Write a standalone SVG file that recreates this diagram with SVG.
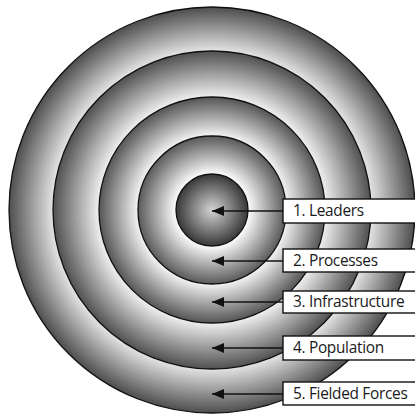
<svg xmlns="http://www.w3.org/2000/svg" width="415" height="416" viewBox="0 0 415 416">
<style>
.ring{stroke:#111;stroke-width:1.3}
.box{fill:#fff;stroke:#111;stroke-width:1.4}
.lbl{font-family:"Open Sans","Noto Sans",sans-serif;font-size:15.4px;letter-spacing:-0.3px;fill:#1a1a1a}
.conn{stroke:#111;stroke-width:1.5;fill:none;marker-end:url(#ah)}
</style>
<defs>
<radialGradient id="g5" gradientUnits="userSpaceOnUse" cx="212" cy="210" r="203">
<stop offset="0.78" stop-color="#e6e6e6"/><stop offset="1" stop-color="#4e4e4e"/></radialGradient>
<radialGradient id="g4" gradientUnits="userSpaceOnUse" cx="212" cy="210" r="159">
<stop offset="0.71" stop-color="#f0f0f0"/><stop offset="1" stop-color="#505050"/></radialGradient>
<radialGradient id="g3" gradientUnits="userSpaceOnUse" cx="212" cy="210" r="113">
<stop offset="0.65" stop-color="#f6f6f6"/><stop offset="1" stop-color="#555"/></radialGradient>
<radialGradient id="g2" gradientUnits="userSpaceOnUse" cx="212" cy="210" r="74">
<stop offset="0.49" stop-color="#fcfcfc"/><stop offset="1" stop-color="#5a5a5a"/></radialGradient>
<radialGradient id="g1" gradientUnits="userSpaceOnUse" cx="212" cy="210" r="36">
<stop offset="0" stop-color="#d4d4d4"/><stop offset="1" stop-color="#383838"/></radialGradient>
<marker id="ah" markerUnits="userSpaceOnUse" markerWidth="12" markerHeight="10" refX="12" refY="5" orient="auto">
<path d="M0,0 L12,5 L0,10 z" fill="#111"/></marker>
</defs>
<rect width="415" height="416" fill="#fff"/>
<g id="ring5"><circle class="ring" cx="212" cy="210" r="203" fill="url(#g5)"/></g>
<g id="ring4"><circle class="ring" cx="212" cy="210" r="159" fill="url(#g4)"/></g>
<g id="ring3"><circle class="ring" cx="212" cy="210" r="113" fill="url(#g3)"/></g>
<g id="ring2"><circle class="ring" cx="212" cy="210" r="74" fill="url(#g2)"/></g>
<g id="ring1"><circle class="ring" cx="212" cy="210" r="36" fill="url(#g1)"/></g>
<g id="connectors">
<line class="conn" x1="283" y1="211" x2="212" y2="211"/>
<line class="conn" x1="283" y1="261" x2="212" y2="261"/>
<line class="conn" x1="283" y1="302" x2="212" y2="302"/>
<line class="conn" x1="283" y1="348" x2="212" y2="348"/>
<line class="conn" x1="283" y1="394" x2="212" y2="394"/>
</g>
<g id="label1"><rect class="box" x="283" y="199" width="140" height="24"/><text class="lbl" x="293" y="216">1. Leaders</text></g>
<g id="label2"><rect class="box" x="283" y="249" width="140" height="23"/><text class="lbl" x="293" y="266">2. Processes</text></g>
<g id="label3"><rect class="box" x="283" y="291" width="140" height="22"/><text class="lbl" x="293" y="307">3. Infrastructure</text></g>
<g id="label4"><rect class="box" x="283" y="336" width="140" height="24"/><text class="lbl" x="293" y="353">4. Population</text></g>
<g id="label5"><rect class="box" x="283" y="382" width="140" height="23"/><text class="lbl" x="293" y="399">5. Fielded Forces</text></g>
</svg>
